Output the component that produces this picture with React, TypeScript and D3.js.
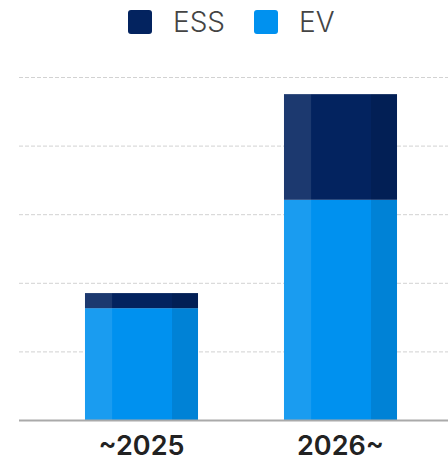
import React, { useEffect, useRef } from 'react';
import * as d3 from 'd3';

const categories = ['~2025', '2026~'];
const evValues = [16.3, 32.1];
const essValues = [2.2, 15.4];
const yTicks = [0, 10, 20, 30, 40, 50];
const seriesNames = ['ESS', 'EV'];
const seriesColors = ['#03235f', '#0091ef'];

const App = () => {
  const ref = useRef<SVGSVGElement>(null);

  useEffect(() => {
    const svg = d3.select(ref.current);
    svg.selectAll('*').remove();

    const x = d3.scaleBand<string>()
      .domain(categories)
      .range([42, 440])
      .paddingInner(0.432)
      .paddingOuter(0.216);

    const y = d3.scaleLinear().domain([0, 50]).range([420, 77]);

    // grid
    svg.append('g')
      .selectAll('line')
      .data(yTicks.slice(1))
      .enter()
      .append('line')
      .attr('x1', 19)
      .attr('x2', 448)
      .attr('y1', d => y(d) + 0.5)
      .attr('y2', d => y(d) + 0.5)
      .attr('stroke', '#d2d2d2')
      .attr('stroke-dasharray', '4,2');

    const rows = categories.map((c, i) => ({ cat: c, ev: evValues[i], ess: essValues[i] }));
    const stack = d3.stack<any>().keys(['ev', 'ess'])(rows);
    const colorOf: Record<string, string> = { ev: seriesColors[1], ess: seriesColors[0] };

    const bw = x.bandwidth();
    stack.forEach(layer => {
      const g = svg.append('g');
      layer.forEach((d: any) => {
        const x0 = x(d.data.cat) as number;
        const top = y(d[1]);
        const h = y(d[0]) - y(d[1]);
        g.append('rect').attr('x', x0).attr('y', top).attr('width', bw).attr('height', h)
          .attr('fill', colorOf[layer.key]);
        // light left strip, dark right strip
        g.append('rect').attr('x', x0).attr('y', top).attr('width', bw * 0.24).attr('height', h)
          .attr('fill', '#fff').attr('opacity', 0.1);
        g.append('rect').attr('x', x0 + bw * 0.77).attr('y', top).attr('width', bw * 0.23).attr('height', h)
          .attr('fill', '#000').attr('opacity', 0.1);
      });
    });

    // baseline
    svg.append('line')
      .attr('x1', 19).attr('x2', 448)
      .attr('y1', y(0) + 0.5).attr('y2', y(0) + 0.5)
      .attr('stroke', '#aaaaaa').attr('stroke-width', 2);

    // x labels
    svg.append('g')
      .selectAll('text')
      .data(categories)
      .enter()
      .append('text')
      .attr('x', d => (x(d) as number) + bw / 2)
      .attr('y', 455)
      .attr('text-anchor', 'middle')
      .attr('font-family', 'Inter, sans-serif')
      .attr('font-weight', 600)
      .attr('font-size', 27)
      .attr('fill', '#222')
      .text(d => d);

    // legend
    const legX = [128, 254];
    const lg = svg.append('g');
    seriesNames.forEach((name, i) => {
      lg.append('rect').attr('x', legX[i]).attr('y', 10).attr('width', 24).attr('height', 24)
        .attr('rx', 3).attr('fill', seriesColors[i]);
      lg.append('text').attr('x', legX[i] + 45).attr('y', 32)
        .attr('font-family', 'Inter, sans-serif')
        .attr('font-weight', 300)
        .attr('font-size', 28)
        .attr('fill', '#444')
        .text(name);
    });
  }, []);

  return (
    <svg ref={ref} width={448} height={462} style={{ position: 'absolute', left: 0, top: 0, background: '#fff' }} />
  );
};

export default App;
